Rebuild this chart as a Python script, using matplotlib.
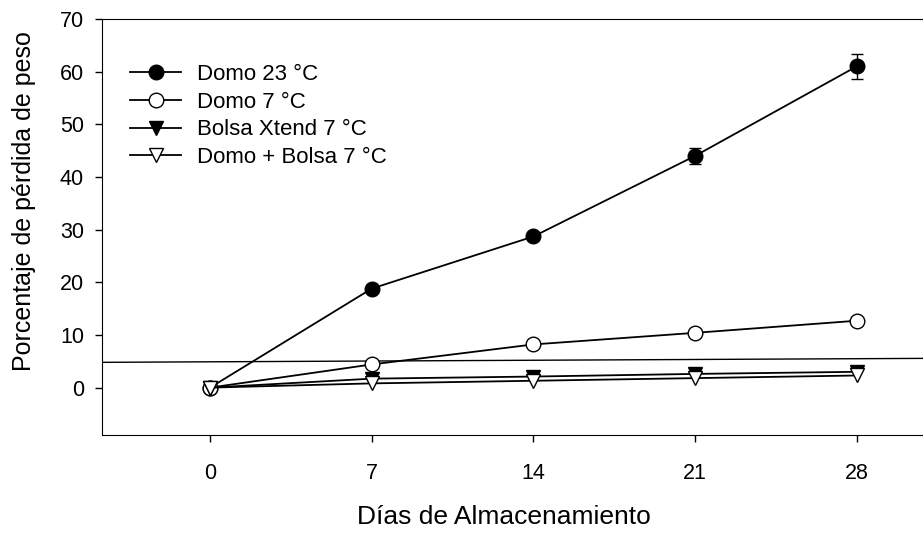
import matplotlib
from matplotlib import pyplot as plt
from matplotlib.lines import Line2D

matplotlib.use('Agg')
plt.rcParams['font.family'] = ['Liberation Sans', 'DejaVu Sans']

# data
dias = [0, 7, 14, 21, 28]
domo_23 = [0, 18.8, 28.7, 44.0, 61.0]
domo_23_err = [0, 0.4, 0.6, 1.5, 2.3]
domo_7 = [0, 4.4, 8.2, 10.4, 12.7]
bolsa_7 = [0, 1.7, 2.1, 2.6, 3.0]
domo_bolsa_7 = [0, 0.8, 1.3, 1.8, 2.3]
ref_line = [4.8, 5.55]  # thin reference line, left -> right

series = [
    ('Domo 23 °C', domo_23, domo_23_err, 'o', 'black'),
    ('Domo 7 °C', domo_7, None, 'o', 'white'),
    ('Bolsa Xtend 7 °C', bolsa_7, None, 'v', 'black'),
    ('Domo + Bolsa 7 °C', domo_bolsa_7, None, 'v', 'white'),
]

fig = plt.figure(figsize=(9.23, 5.34), dpi=100)
ax = fig.add_axes([0.1105, 0.1854, 0.8895, 0.779])

xlim = (-4.68, 30.87)
ax.plot(xlim, ref_line, color='black', lw=1.0, zorder=1)

handles = []
for label, vals, err, mk, fc in series:
    ax.errorbar(dias, vals, yerr=err, color='black', lw=1.3, marker=mk,
                markersize=10.5, markerfacecolor=fc, markeredgecolor='black',
                markeredgewidth=1.0, capsize=4.5, elinewidth=1.0, zorder=3)
    handles.append(Line2D([], [], color='black', lw=1.3, marker=mk, markersize=10.5,
                          markerfacecolor=fc, markeredgecolor='black', label=label))

ax.set_xlim(*xlim)
ax.set_ylim(-9, 70)
ax.set_xticks(dias)
ax.set_yticks(range(0, 71, 10))
ax.tick_params(direction='out', length=5, width=1, labelsize=15.5)
ax.tick_params(axis='x', pad=15)
ax.tick_params(axis='y', pad=8)
ax.spines['right'].set_visible(False)

ax.set_xlabel('Días de Almacenamiento', fontsize=19)
ax.set_ylabel('Porcentaje de pérdida de peso', fontsize=18)
ax.xaxis.set_label_coords(0.49, -0.168)
ax.yaxis.set_label_coords(-0.080, 0.5625)

fig.legend(handles=handles, loc='upper left', bbox_to_anchor=(0.1408, 0.88),
           bbox_transform=fig.transFigure, frameon=False, fontsize=16,
           handlelength=2.3, labelspacing=0.3, handletextpad=0.7,
           borderpad=0, borderaxespad=0)

fig.savefig('out.png', dpi=100)
plt.close(fig)
